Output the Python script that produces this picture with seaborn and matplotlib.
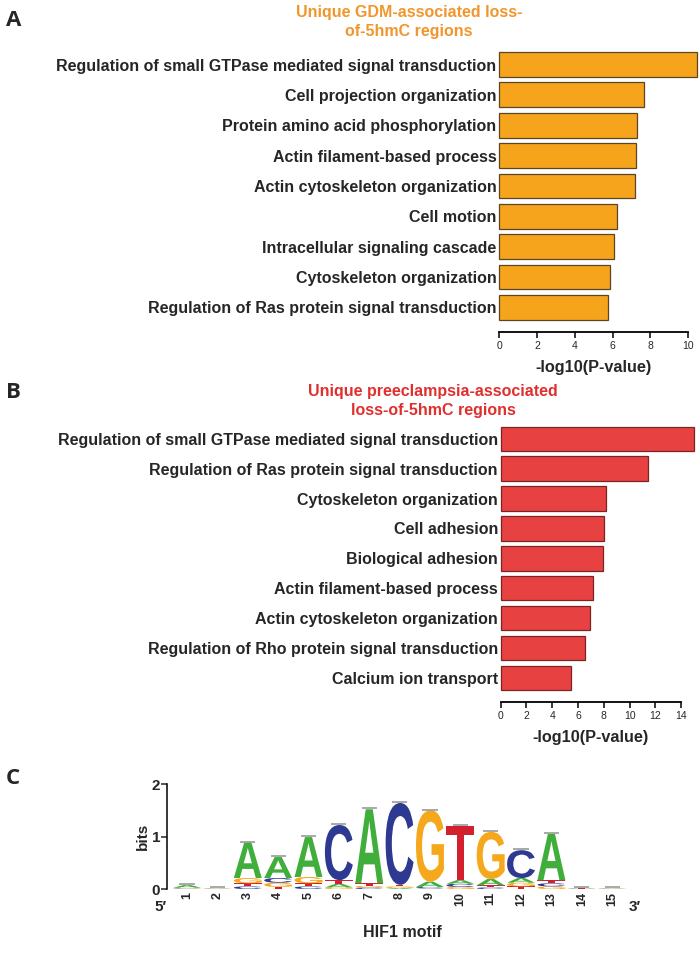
import matplotlib
matplotlib.use("Agg")
import matplotlib.pyplot as plt
import matplotlib.transforms as mtransforms
from matplotlib.textpath import TextPath
from matplotlib.patches import PathPatch
from matplotlib.font_manager import FontProperties
import seaborn as sns
import numpy as np

sns.set_style("white")
plt.rcParams['font.family'] = ['Liberation Sans', 'DejaVu Sans']

# Panel A data
gdm_terms = [
    "Regulation of small GTPase mediated signal transduction",
    "Cell projection organization",
    "Protein amino acid phosphorylation",
    "Actin filament-based process",
    "Actin cytoskeleton organization",
    "Cell motion",
    "Intracellular signaling cascade",
    "Cytoskeleton organization",
    "Regulation of Ras protein signal transduction",
]
gdm_values = [10.45, 7.67, 7.31, 7.24, 7.19, 6.24, 6.08, 5.87, 5.74]

# Panel B data
pe_terms = [
    "Regulation of small GTPase mediated signal transduction",
    "Regulation of Ras protein signal transduction",
    "Cytoskeleton organization",
    "Cell adhesion",
    "Biological adhesion",
    "Actin filament-based process",
    "Actin cytoskeleton organization",
    "Regulation of Rho protein signal transduction",
    "Calcium ion transport",
]
pe_values = [15.0, 11.4, 8.2, 8.0, 7.95, 7.17, 6.95, 6.56, 5.45]

# Panel C data: HIF1 motif, information (bits) per base and position
motif_pos = list(range(1, 16))
bits_A = [0.05, 0.005, 0.68, 0.40, 0.76, 0.07, 1.41, 0.02, 0.10, 0.07, 0.12, 0.09, 0.88, 0.01, 0.005]
bits_C = [0.01, 0.005, 0.05, 0.09, 0.05, 1.05, 0.03, 1.56, 0.03, 0.06, 0.03, 0.53, 0.06, 0.005, 0.005]
bits_G = [0.01, 0.005, 0.10, 0.08, 0.12, 0.03, 0.03, 0.03, 1.36, 0.04, 0.90, 0.07, 0.05, 0.005, 0.005]
bits_T = [0.005, 0.005, 0.06, 0.04, 0.06, 0.07, 0.05, 0.03, 0.01, 1.03, 0.04, 0.05, 0.06, 0.005, 0.005]

base_colors = {"A": "#3fae3a", "C": "#2e3a92", "G": "#f6a81c", "T": "#d2202f"}

W, H = 700, 963
fig = plt.figure(figsize=(W / 100, H / 100), dpi=100)


def bar_panel(rect, terms, values, xmax, tick_max, color, edge, title, title_color, title_xy):
    ax = fig.add_axes(rect)
    sns.barplot(x=values, y=terms, orient="h", color=color, edgecolor=edge,
                linewidth=0.9, width=0.82, ax=ax, saturation=1)
    ax.set_xlim(0, xmax)
    ax.set_ylim(8.8, -0.5)
    for s in ["top", "right", "left"]:
        ax.spines[s].set_visible(False)
    ax.spines["bottom"].set_bounds(0, tick_max)
    ax.spines["bottom"].set_linewidth(1.3)
    ax.spines["bottom"].set_color("black")
    ax.set_xticks(np.arange(0, tick_max + 1, 2))
    ax.tick_params(axis="x", direction="out", length=4, width=1.3, labelsize=7.5, pad=3,
                   bottom=True)
    ax.tick_params(axis="y", length=0, labelsize=11.5, pad=2)
    for lab in ax.get_yticklabels():
        lab.set_fontweight("bold")
    for p in ax.patches:
        p.set_clip_on(False)
    ax.set_ylabel("")
    ax.set_xlabel("-log10(P-value)", fontsize=11.7, fontweight="bold")
    ax.xaxis.set_label_coords(tick_max / 2 / xmax, -0.1)
    fig.text(title_xy[0] / W, 1 - title_xy[1] / H, title, color=title_color,
             fontsize=11.5, fontweight="bold", ha="center", va="center", linespacing=1.3)
    return ax


ax_a = bar_panel([0.7133, 0.6556, 0.2831, 0.2931], gdm_terms, gdm_values, 10.5, 10,
                 "#f5a41c", "#5a4626", "Unique GDM-associated loss-\nof-5hmC regions",
                 "#f0962c", (409, 22))
ax_b = bar_panel([0.7153, 0.2713, 0.2780, 0.2886], pe_terms, pe_values, 15.1, 14,
                 "#e84141", "#7a2424", "Unique preeclampsia-associated\nloss-of-5hmC regions",
                 "#e0302e", (433, 401))

# Panel C: sequence logo
ax_c = fig.add_axes([0.2386, 0.0768, 0.6619, 0.1090])
ax_c.set_xlim(0.34, 15.6)
ax_c.set_ylim(0, 2)
fp = FontProperties(family="Liberation Sans", weight="bold")
letter_w = 0.92
heights = {"A": bits_A, "C": bits_C, "G": bits_G, "T": bits_T}
for i, pos in enumerate(motif_pos):
    stack = sorted(((heights[b][i], b) for b in "ACGT"))
    y0 = 0.0
    for h, b in stack:
        tp = TextPath((0, 0), b, size=1, prop=fp)
        bb = tp.get_extents()
        tr = (mtransforms.Affine2D().translate(-bb.x0, -bb.y0)
              .scale(letter_w / bb.width, h / bb.height)
              .translate(pos - letter_w / 2, y0))
        ax_c.add_patch(PathPatch(tr.transform_path(tp), fc=base_colors[b], ec="none"))
        y0 += h
    ax_c.hlines(y0 + 0.015, pos - 0.25, pos + 0.25, color="#9a9a9a", lw=1.2)

for s in ["top", "right", "bottom"]:
    ax_c.spines[s].set_visible(False)
ax_c.spines["left"].set_linewidth(1.1)
ax_c.spines["left"].set_color("black")
ax_c.set_yticks([0, 1, 2])
ax_c.set_xticks(motif_pos)
ax_c.set_xticklabels([str(p) for p in motif_pos], rotation=90, fontsize=9, fontweight="bold")
ax_c.tick_params(axis="x", length=0, pad=2)
ax_c.tick_params(axis="y", direction="out", length=4, width=1.1, labelsize=11, pad=1, left=True)
for lab in ax_c.get_yticklabels():
    lab.set_fontweight("bold")
ax_c.set_ylabel("bits", fontsize=11, fontweight="bold", labelpad=1)
ax_c.text(0.34, -0.1, "5\u2032", transform=ax_c.get_xaxis_transform(), ha="right",
          va="top", fontsize=11, fontweight="bold")
ax_c.text(15.55, -0.1, "3\u2032", transform=ax_c.get_xaxis_transform(), ha="left",
          va="top", fontsize=11, fontweight="bold")
fig.text(402 / W, 1 - 932 / H, "HIF1 motif", fontsize=11.5, fontweight="bold",
         ha="center", va="center")

for lab, yp in [("A", 20), ("B", 392), ("C", 778)]:
    fig.text(0.008, 1 - yp / H, lab, fontsize=16, fontweight="bold", family="Open Sans",
             ha="left", va="center")

fig.savefig("out.png", dpi=100)
